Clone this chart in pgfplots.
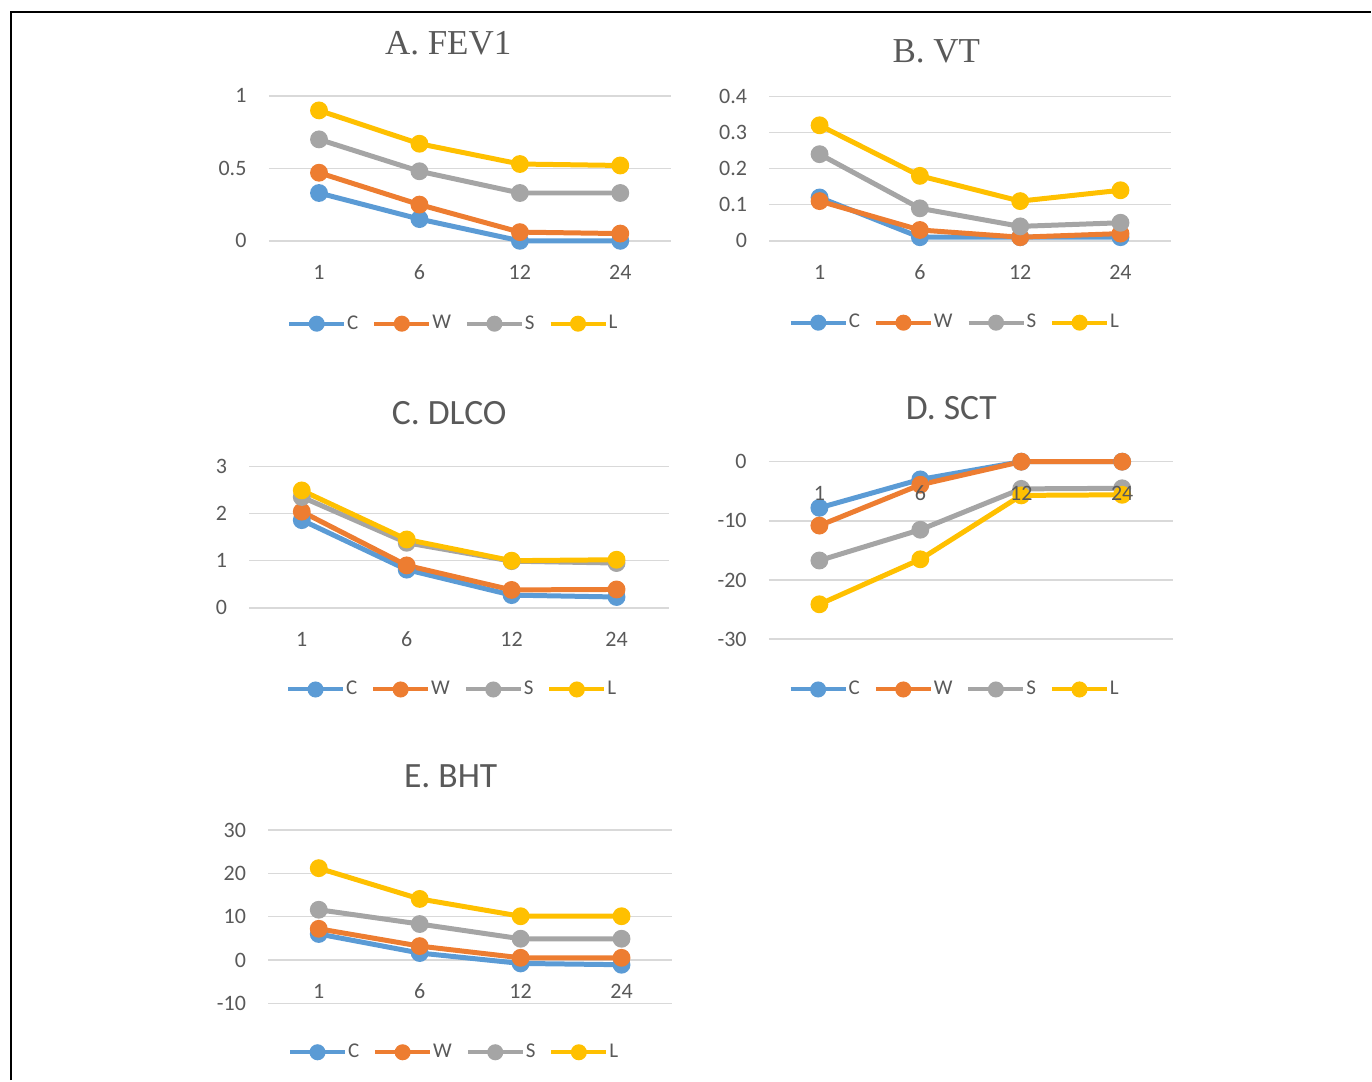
\documentclass[border=0pt]{standalone}
\usepackage{pgfplots}
\pgfplotsset{compat=1.18}
\usepackage{fontspec}
\setmainfont{Carlito}
\newfontfamily\seriffont{Liberation Serif}
\definecolor{cC}{HTML}{5B9BD5}
\definecolor{cW}{HTML}{ED7D31}
\definecolor{cS}{HTML}{A5A5A5}
\definecolor{cL}{HTML}{FFC000}
\definecolor{gridc}{HTML}{D9D9D9}
\definecolor{textc}{HTML}{595959}
\tikzset{toplabel/.style={anchor=base, inner sep=0pt, yshift=-19.5pt, font=\fontsize{11}{13}\selectfont, text=textc}}
\pgfplotsset{
 panel/.style={
  scale only axis, anchor=south west,
  axis x line*=middle, axis y line*=left,
  axis line style={draw=none},
  major tick length=0pt,
  hide obscured x ticks=false, hide obscured y ticks=false,
  xmin=0.5, xmax=4.5, xtick={1,2,3,4}, xticklabels={1,6,12,24},
  ymajorgrids, grid style={color=gridc, line width=0.75pt},
  tick label style={font=\fontsize{11}{13}\selectfont, text=textc},
  xticklabel style={anchor=base, inner sep=0pt, yshift=-19.5pt},
  yticklabel style={anchor=east, inner sep=0pt, xshift=-11pt},
  clip=false,
  legend columns=4,
  legend style={draw=none, fill=none, anchor=center,
    font=\fontsize{10.5}{12}\selectfont, text=textc,
    /tikz/every even column/.append style={column sep=6.5pt},
    nodes={inner sep=0.5pt}},
  legend image code/.code={\draw[line width=2pt, mark repeat=2, mark phase=2, mark size=3pt] plot coordinates {(0pt,0pt)(13.75pt,0pt)(27.5pt,0pt)};},
  every axis plot/.append style={line width=2.5pt, mark=*, mark size=3.2pt, mark options={solid}},
 },
 sC/.style={color=cC}, sW/.style={color=cW}, sS/.style={color=cS}, sL/.style={color=cL},
}
\begin{document}
\begin{tikzpicture}
\path (0pt,0pt) rectangle (686pt,540.5pt);
\draw[line width=1pt] (5.5pt,0pt) -- (5.5pt,534.5pt) -- (686pt,534.5pt);

% A. FEV1
\begin{axis}[panel, at={(134.5pt,420pt)}, width=201pt, height=72.5pt,
  ymin=0, ymax=1, ytick={0,0.5,1}, yticklabels={0,0.5,1},
  legend style={at={(0.458,-0.572)}}]
\addplot[sC] coordinates {(1,0.33) (2,0.15) (3,0) (4,0)};
\addplot[sW] coordinates {(1,0.47) (2,0.25) (3,0.06) (4,0.05)};
\addplot[sS] coordinates {(1,0.70) (2,0.48) (3,0.33) (4,0.33)};
\addplot[sL] coordinates {(1,0.90) (2,0.67) (3,0.53) (4,0.52)};
\legend{C,W,S,L}
\end{axis}

% B. VT
\begin{axis}[panel, at={(385pt,420pt)}, width=200.75pt, height=72.25pt,
  ymin=0, ymax=0.4, ytick={0,0.1,0.2,0.3,0.4}, yticklabels={0,0.1,0.2,0.3,0.4},
  legend style={at={(0.461,-0.567)}}]
\addplot[sC] coordinates {(1,0.12) (2,0.01) (3,0.01) (4,0.01)};
\addplot[sW] coordinates {(1,0.11) (2,0.03) (3,0.01) (4,0.02)};
\addplot[sS] coordinates {(1,0.24) (2,0.09) (3,0.04) (4,0.05)};
\addplot[sL] coordinates {(1,0.32) (2,0.18) (3,0.11) (4,0.14)};
\legend{C,W,S,L}
\end{axis}

% C. DLCO
\begin{axis}[panel, at={(124.75pt,236.35pt)}, width=210pt, height=70.8pt,
  ymin=0, ymax=3, ytick={0,1,2,3}, yticklabels={0,1,2,3},
  legend style={at={(0.482,-0.577)}}]
\addplot[sC] coordinates {(1,1.86) (2,0.81) (3,0.27) (4,0.23)};
\addplot[sW] coordinates {(1,2.04) (2,0.90) (3,0.38) (4,0.39)};
\addplot[sS] coordinates {(1,2.35) (2,1.38) (3,0.99) (4,0.95)};
\addplot[sL] coordinates {(1,2.49) (2,1.45) (3,1.00) (4,1.02)};
\legend{C,W,S,L}
\end{axis}

% D. SCT (x labels drawn over the lines, as in the reference)
\begin{axis}[panel, at={(384.75pt,220.65pt)}, width=202pt, height=88.85pt,
  ymin=-30, ymax=0, ytick={-30,-20,-10,0}, yticklabels={-30,-20,-10,0},
  xticklabels={},
  legend style={at={(0.459,-0.283)}}]
\addplot[sC] coordinates {(1,-7.8) (2,-3.0) (3,0) (4,0)};
\addplot[sW] coordinates {(1,-10.8) (2,-3.9) (3,0) (4,0)};
\addplot[sS] coordinates {(1,-16.7) (2,-11.5) (3,-4.6) (4,-4.5)};
\addplot[sL] coordinates {(1,-24.1) (2,-16.5) (3,-5.7) (4,-5.6)};
\legend{C,W,S,L}
\coordinate (dA) at (axis cs:1,0);
\coordinate (dB) at (axis cs:2,0);
\coordinate (dC) at (axis cs:3,0);
\coordinate (dD) at (axis cs:4,0);
\end{axis}
\node[toplabel] at (dA) {1};
\node[toplabel] at (dB) {6};
\node[toplabel] at (dC) {12};
\node[toplabel] at (dD) {24};

% E. BHT
\begin{axis}[panel, at={(134.25pt,38.5pt)}, width=202pt, height=86.65pt,
  ymin=-10, ymax=30, ytick={-10,0,10,20,30}, yticklabels={-10,0,10,20,30},
  legend style={at={(0.459,-0.283)}}]
\addplot[sC] coordinates {(1,6.0) (2,1.6) (3,-0.8) (4,-1.1)};
\addplot[sW] coordinates {(1,7.2) (2,3.2) (3,0.5) (4,0.5)};
\addplot[sS] coordinates {(1,11.6) (2,8.3) (3,4.9) (4,4.9)};
\addplot[sL] coordinates {(1,21.2) (2,14.1) (3,10.1) (4,10.1)};
\legend{C,W,S,L}
\end{axis}

% titles
\node[anchor=base, font=\seriffont\fontsize{17.5}{19}\selectfont, text=textc] at (224.25pt,513pt) {A. FEV1};
\node[anchor=base, font=\seriffont\fontsize{17.5}{19}\selectfont, text=textc] at (468.5pt,509pt) {B. VT};
\node[anchor=base, font=\fontsize{17.8}{20}\selectfont, text=textc] at (224.75pt,328pt) {C. DLCO};
\node[anchor=base, font=\fontsize{17.8}{20}\selectfont, text=textc] at (476pt,330.5pt) {D. SCT};
\node[anchor=base, font=\fontsize{17.8}{20}\selectfont, text=textc] at (225.5pt,146.5pt) {E. BHT};
\end{tikzpicture}
\end{document}
